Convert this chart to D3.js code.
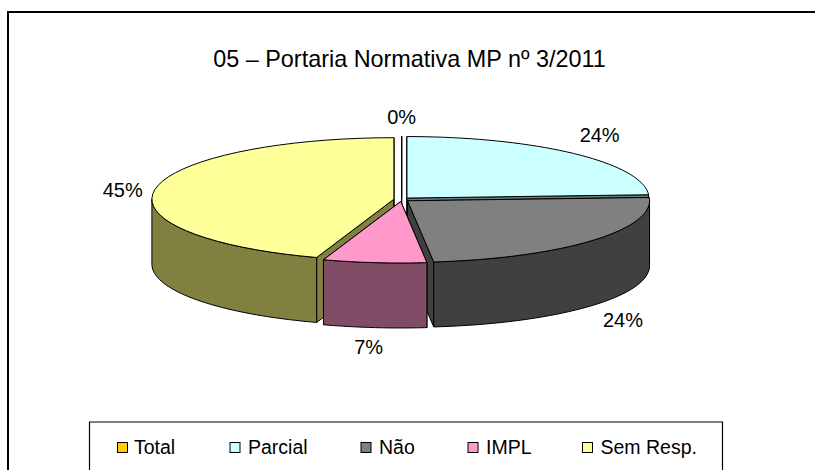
<!DOCTYPE html>
<html><head><meta charset="utf-8">
<script src="https://cdn.jsdelivr.net/npm/d3@7"></script>
<style>html,body{margin:0;background:#fff}svg{display:block}text{font-family:"Liberation Sans",Arial,sans-serif;fill:#000}</style>
</head><body><svg id="c" width="815" height="470"></svg>
<script>
const titleText = "05 – Portaria Normativa MP nº 3/2011";
const categories = ["Total", "Parcial", "Não", "IMPL", "Sem Resp."];
const counts = [0, 7, 7, 2, 13];
const topColors = ["#FFCC00", "#CCFFFF", "#808080", "#FF99CC", "#FFFF99"];
const wallColors = ["#806600", "#668080", "#404040", "#804C66", "#808040"];

const W = 815, H = 470;
const layout = {
  cx: 401.6, cy: 199.5, rx: 242, ry: 61.5, depth: 65, explode: 7.8,
  labelReachX: [1, 1.19, 1.2, 1.26, 1.168],
  labelReachY: [1.34, 1.44, 1.4, 1.35, 1],
  legendSwatchX: [117, 229.5, 360.5, 467.5, 582],
  legendTextX: [134, 248, 379, 486, 600.5]
};
const svg = d3.select("#c");
const total = d3.sum(counts);

// outer frame, open on the right and at the bottom (the page crops it)
svg.append("path").attr("d", `M8,${H}V12H${W}`).attr("fill","none").attr("stroke","#000").attr("stroke-width",2);

svg.append("text").attr("x",409.5).attr("y",67).attr("text-anchor","middle").attr("font-size",23.4).text(titleText);

const pie = d3.pie().sort(null).value(d=>d);
const arcs = pie(counts).map((a,i)=>({...a, i, mid:(a.startAngle+a.endAngle)/2}));
const proj = (cx,cy,a,k=1)=>[cx+layout.rx*k*Math.sin(a), cy-layout.ry*k*Math.cos(a)];
const line = d3.line();
const sample = (a0,a1)=>d3.range(0,41).map(t=>a0+(a1-a0)*t/40);

const order = arcs.slice().sort((p,q)=>Math.cos(q.mid)-Math.cos(p.mid));
const g = svg.append("g").attr("stroke","#000").attr("stroke-width",1).attr("stroke-linejoin","round");
order.forEach(s=>{
  const ox = layout.cx + layout.explode*Math.sin(s.mid);
  const oy = layout.cy - layout.explode*Math.cos(s.mid)*layout.ry/layout.rx;
  const c = [ox,oy], h = layout.depth;
  const face = (a)=>{ const p = proj(ox,oy,a);
    return [c,p,[p[0],p[1]+h],[ox,oy+h]]; };
  const wall = wallColors[s.i];
  // cut faces
  g.append("path").attr("d",line(face(s.startAngle))+"Z").attr("fill",wall);
  g.append("path").attr("d",line(face(s.endAngle))+"Z").attr("fill",wall);
  // outer wall (front half only)
  const a0 = Math.max(s.startAngle,Math.PI/2), a1 = Math.min(s.endAngle,3*Math.PI/2);
  if (a1>a0){
    const ang = sample(a0,a1);
    const up = ang.map(a=>proj(ox,oy,a));
    const dn = ang.map(a=>{const p=proj(ox,oy,a);return [p[0],p[1]+h];}).reverse();
    g.append("path").attr("d",line(up.concat(dn))+"Z").attr("fill",wall);
  }
  // top
  const pts = [c].concat(sample(s.startAngle,s.endAngle).map(a=>proj(ox,oy,a)));
  g.append("path").attr("d",line(pts)+"Z").attr("fill",topColors[s.i]);
});

// percentage labels
arcs.forEach(s=>{
  const [x,y0] = [layout.cx + layout.rx*layout.labelReachX[s.i]*Math.sin(s.mid),
                  layout.cy - layout.ry*layout.labelReachY[s.i]*Math.cos(s.mid)];
  const y = y0 + (Math.cos(s.mid)<0 ? layout.depth : 0);
  svg.append("text").attr("x",x).attr("y",y).attr("dy","0.36em").attr("text-anchor","middle")
     .attr("font-size",20).text(d3.format(".0%")(s.value/total));
});

// legend
svg.append("path").attr("d",`M89.5,${H}V422H722.5V${H}`).attr("fill","none").attr("stroke","#000").attr("stroke-width",1.2);
categories.forEach((c,i)=>{
  svg.append("rect").attr("x",layout.legendSwatchX[i]+.5).attr("y",442.5).attr("width",10).attr("height",10)
     .attr("fill",topColors[i]).attr("stroke","#000");
  svg.append("text").attr("x",layout.legendTextX[i]).attr("y",454).attr("font-size",19.5).text(c);
});
</script></body></html>
